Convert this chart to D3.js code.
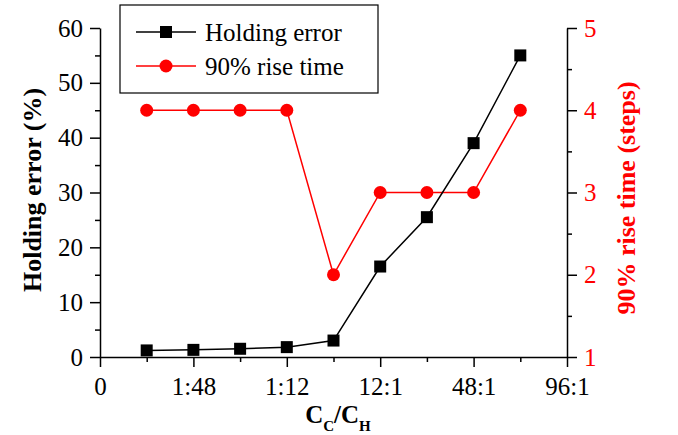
<!DOCTYPE html>
<html>
<head>
<meta charset="utf-8">
<script src="https://cdn.jsdelivr.net/npm/d3@7"></script>
<style>
  body { margin: 0; background: #fff; }
  text { font-family: "Liberation Serif", "Times New Roman", serif; }
</style>
</head>
<body>
<div id="chart"></div>
<script>
// data: points sit at half-step positions of the ratio axis
const positions = [1, 2, 3, 4, 5, 6, 7, 8, 9];
const holdingError = [1.2, 1.3, 1.5, 1.8, 3.0, 16.5, 25.5, 39, 55];
const riseTime = [4, 4, 4, 4, 2, 3, 3, 3, 4];
const xTickPos = [0, 2, 4, 6, 8, 10];
const xTickLabels = ["0", "1:48", "1:12", "12:1", "48:1", "96:1"];

const W = 678, H = 435;
const margin = {top: 28, right: 111, bottom: 78, left: 100};
const width = W - margin.left - margin.right,
      height = H - margin.top - margin.bottom;
const red = "#ff0000";

const svg = d3.select("#chart").append("svg")
  .attr("width", W).attr("height", H);
const g = svg.append("g")
  .attr("transform", `translate(${margin.left},${margin.top})`);

const x = d3.scaleLinear().domain([0, 10]).range([0, width]);
const yL = d3.scaleLinear().domain([0, 60]).range([height, 0]);
const yR = d3.scaleLinear().domain([1, 5]).range([height, 0]);

// minor ticks first
g.append("g")
  .attr("transform", `translate(0,${height})`)
  .call(d3.axisBottom(x).tickValues(d3.range(1, 10, 2)).tickSize(5).tickFormat(""))
  .call(a => a.select(".domain").remove());
g.append("g")
  .call(d3.axisLeft(yL).tickValues(d3.range(5, 60, 10)).tickSize(5).tickFormat(""))
  .call(a => a.select(".domain").remove());
g.append("g")
  .attr("transform", `translate(${width},0)`)
  .call(d3.axisRight(yR).tickValues(d3.range(1.5, 5, 1)).tickSize(5).tickFormat(""))
  .call(a => a.select(".domain").remove());

// major axes
const xAxis = g.append("g")
  .attr("transform", `translate(0,${height})`)
  .call(d3.axisBottom(x).tickValues(xTickPos).tickSize(10).tickSizeOuter(0)
    .tickFormat((d, i) => xTickLabels[i]));
const yAxisL = g.append("g")
  .call(d3.axisLeft(yL).tickValues(d3.range(0, 61, 10)).tickSize(10).tickSizeOuter(0));
const yAxisR = g.append("g")
  .attr("transform", `translate(${width},0)`)
  .call(d3.axisRight(yR).tickValues([1, 2, 3, 4, 5]).tickSize(10).tickSizeOuter(0)
    .tickFormat(d3.format("d")));

g.selectAll(".tick line, .domain").attr("stroke", "#000").attr("stroke-width", 1.5);
g.selectAll(".tick text").style("font-size", "25px")
  .style("font-family", "'Liberation Serif', serif").attr("fill", "#000");
xAxis.selectAll(".tick text").attr("y", 20).attr("dy", "0.71em");
yAxisL.selectAll(".tick text").attr("x", -17);
yAxisR.selectAll(".tick text").attr("x", 17).attr("fill", red);

// lines
const lineL = d3.line().x((d, i) => x(positions[i])).y(d => yL(d));
const lineR = d3.line().x((d, i) => x(positions[i])).y(d => yR(d));

g.append("path").datum(riseTime).attr("d", lineR)
  .attr("fill", "none").attr("stroke", red).attr("stroke-width", 1.5);
g.append("path").datum(holdingError).attr("d", lineL)
  .attr("fill", "none").attr("stroke", "#000").attr("stroke-width", 1.5);

g.selectAll(".sq").data(holdingError).join("rect")
  .attr("x", (d, i) => x(positions[i]) - 6)
  .attr("y", d => yL(d) - 6)
  .attr("width", 12).attr("height", 12).attr("fill", "#000");
g.selectAll(".dot").data(riseTime).join("circle")
  .attr("cx", (d, i) => x(positions[i]))
  .attr("cy", d => yR(d))
  .attr("r", 6.5).attr("fill", red);

// axis titles
svg.append("text")
  .attr("transform", `translate(41,190) rotate(-90)`)
  .attr("text-anchor", "middle")
  .style("font-size", "26px").style("font-weight", "bold")
  .text("Holding error (%)");
svg.append("text")
  .attr("transform", `translate(635,198) rotate(-90)`)
  .attr("text-anchor", "middle")
  .style("font-size", "26px").style("font-weight", "bold")
  .attr("fill", red)
  .text("90% rise time (steps)");
const xt = svg.append("text")
  .attr("x", 338).attr("y", 423)
  .attr("text-anchor", "middle")
  .style("font-size", "25px").style("font-weight", "bold");
xt.append("tspan").text("C");
xt.append("tspan").attr("dy", 8).style("font-size", "15px").text("C");
xt.append("tspan").attr("dy", -8).text("/C");
xt.append("tspan").attr("dy", 8).style("font-size", "15px").text("H");

// legend
const legend = svg.append("g").attr("transform", "translate(120,5)");
legend.append("rect").attr("width", 258).attr("height", 88)
  .attr("fill", "#fff").attr("stroke", "#000").attr("stroke-width", 1.2);
const items = [
  {name: "Holding error", color: "#000", shape: "square"},
  {name: "90% rise time", color: red, shape: "circle"}
];
items.forEach((it, i) => {
  const yy = 27 + i * 34;
  legend.append("line").attr("x1", 16).attr("x2", 76).attr("y1", yy).attr("y2", yy)
    .attr("stroke", it.color).attr("stroke-width", 1.5);
  if (it.shape === "square") {
    legend.append("rect").attr("x", 40).attr("y", yy - 6).attr("width", 12).attr("height", 12)
      .attr("fill", it.color);
  } else {
    legend.append("circle").attr("cx", 46).attr("cy", yy).attr("r", 6.5).attr("fill", it.color);
  }
  legend.append("text").attr("x", 85).attr("y", yy + 9)
    .style("font-size", "25px").text(it.name);
});
</script>
</body>
</html>
